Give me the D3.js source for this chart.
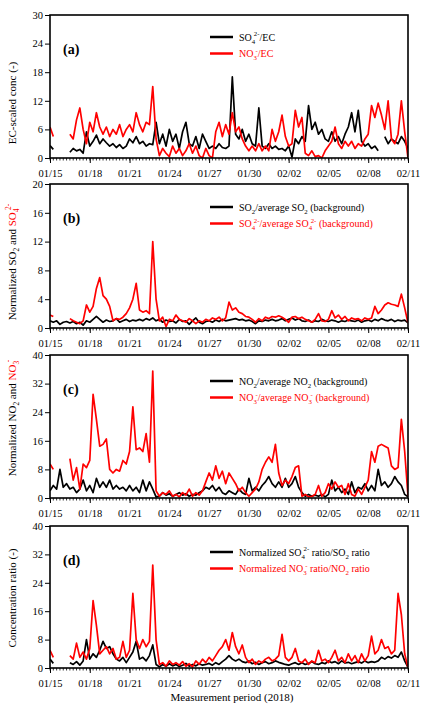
<!DOCTYPE html>
<html><head><meta charset="utf-8">
<script src="https://cdn.jsdelivr.net/npm/d3@7"></script>
<style>body{margin:0;background:#fff}svg{display:block}text{font-family:"Liberation Serif","Times New Roman",serif}</style>
</head><body>
<svg id="c" width="422" height="704"></svg>
<script>
// time base: 2018-01-15 00:00, one value every 6 hours (109 values to 02/11)
const startDate = "2018-01-15";
const stepHours = 6;
const tickLabels = ["01/15","01/18","01/21","01/24","01/27","01/30","02/02","02/05","02/08","02/11"];

const so4EC = [2.6,1.8,null,null,null,null,1.2,2.0,1.5,1.8,1.0,5.5,2.5,3.5,4.8,3.0,4.0,3.2,2.5,3.0,2.2,2.8,2.0,2.5,4.0,3.2,4.5,3.0,3.5,2.5,3.0,2.8,7.5,3.0,5.0,2.5,6.0,3.5,5.0,2.0,5.5,7.5,3.0,2.5,4.5,2.0,5.0,3.5,2.0,2.5,2.0,3.0,2.2,2.0,2.5,17.0,5.0,4.0,6.0,3.5,5.0,3.0,2.5,10.5,2.5,2.0,3.0,2.0,2.5,1.8,2.0,1.5,2.5,0.2,4.0,3.0,4.5,3.5,11.0,6.0,7.5,5.0,6.0,4.0,3.5,5.5,3.5,4.5,3.0,5.0,6.5,9.5,5.5,10.0,3.5,2.5,3.0,2.0,2.5,1.5,null,4.5,3.0,4.0,3.5,3.0,4.5,3.5,2.0];
const no3EC = [6.5,4.5,null,null,null,null,5.0,4.0,8.0,10.5,6.0,3.0,7.5,5.5,9.5,6.5,5.0,6.5,4.5,6.0,5.0,7.0,4.5,6.0,7.0,5.5,9.5,7.0,5.5,7.5,7.0,15.0,4.0,0.5,2.0,1.0,0.3,2.5,1.0,2.0,0.5,1.5,3.0,1.0,2.5,0.5,0.0,2.0,0.5,0.0,5.5,7.5,4.5,7.0,5.0,9.5,5.5,6.5,4.0,2.5,1.5,2.5,1.5,3.0,1.5,2.5,1.5,6.0,3.5,5.5,9.0,4.5,2.5,3.0,10.0,6.5,8.5,1.0,0.5,1.5,0.3,0.5,0.0,1.5,2.5,3.5,6.5,3.0,2.0,3.5,2.5,3.5,2.0,3.0,2.5,4.0,5.0,11.0,8.5,11.5,9.0,6.0,12.0,4.0,3.0,5.0,12.0,5.5,0.0];

const so2Norm = [1.0,0.8,1.0,0.5,0.8,0.9,0.7,0.9,0.6,0.8,0.4,1.0,0.8,1.2,1.6,1.2,0.8,1.1,0.9,1.0,1.3,0.8,1.0,1.2,0.9,1.1,1.0,1.2,1.0,1.3,1.1,1.4,1.0,1.2,0.8,1.1,0.9,1.0,0.7,1.2,0.9,1.0,0.5,1.0,1.4,0.8,0.6,0.9,1.0,0.8,1.1,0.9,1.2,1.0,1.1,1.2,1.3,1.1,1.2,1.0,1.1,0.9,0.6,1.0,0.9,1.1,1.0,1.2,1.0,1.1,1.3,1.0,1.2,1.4,1.1,1.3,1.0,0.9,1.1,0.8,1.0,0.9,1.2,1.0,0.9,1.1,1.0,0.8,1.0,0.9,1.1,1.0,0.9,1.1,0.8,1.0,1.1,0.9,1.2,1.0,1.3,1.1,1.0,1.2,0.9,1.1,1.0,1.1,0.7];
const so4Norm = [1.8,1.6,null,null,null,null,1.3,1.0,0.8,0.6,1.0,3.2,2.2,3.0,5.5,7.0,4.5,4.0,3.0,1.0,1.3,1.2,1.5,2.0,2.8,4.0,6.2,2.5,2.2,2.4,2.0,12.0,4.0,1.0,1.5,0.2,1.2,1.0,1.8,1.2,1.0,0.8,1.3,1.0,0.6,1.0,0.8,1.2,1.0,1.4,1.2,1.5,1.0,1.4,3.6,2.5,2.8,2.2,2.0,1.6,1.5,1.2,0.8,1.3,1.0,1.5,1.3,1.6,1.5,1.7,1.5,1.2,0.8,1.5,1.6,1.3,1.5,1.2,1.0,0.8,1.2,2.0,1.0,0.9,1.2,2.4,1.4,1.8,1.2,1.6,1.0,1.4,1.2,1.3,1.0,1.4,1.2,1.4,3.0,2.0,2.5,3.2,3.5,3.3,3.2,3.0,4.7,2.8,0.7];

const no2Norm = [2.0,3.5,2.5,8.0,3.0,4.0,2.5,3.0,1.5,2.5,5.0,2.0,3.5,1.5,5.5,3.0,4.5,3.0,5.0,2.5,3.5,2.5,3.0,2.0,3.5,2.0,3.0,1.5,5.0,2.0,4.5,2.5,0.3,0.5,1.5,0.8,1.2,0.5,1.0,1.5,0.8,1.2,0.5,1.0,0.8,1.5,2.0,3.0,2.5,3.5,2.0,3.0,1.5,1.0,2.0,1.5,1.0,2.5,1.5,1.0,5.5,2.0,3.0,2.0,3.5,4.5,6.0,4.0,3.0,4.5,3.0,5.5,3.0,4.0,6.0,3.0,1.5,0.5,1.0,0.5,0.8,0.5,1.0,0.3,1.0,5.0,2.0,3.0,1.5,2.5,1.0,4.5,1.5,3.0,2.5,4.0,2.0,3.5,2.0,8.0,3.5,4.5,3.0,4.0,6.0,4.5,3.5,1.0,0.3];
const no3Norm = [9.5,8.0,null,null,null,null,11.0,5.0,8.5,2.5,9.5,8.5,10.5,29.0,22.0,14.5,15.0,16.5,8.0,7.0,8.0,7.5,10.5,9.5,13.0,25.5,13.5,14.0,13.0,18.0,10.0,35.5,2.0,0.5,1.5,1.0,2.0,0.5,1.0,0.3,1.5,0.8,2.5,0.5,1.5,0.8,2.0,4.5,7.0,5.0,9.0,5.5,7.5,4.0,7.0,5.5,4.0,2.0,3.0,1.5,0.5,1.5,2.5,4.5,8.0,10.0,11.5,10.0,15.0,7.0,3.5,5.0,4.0,6.0,8.5,9.0,0.5,1.0,0.3,0.5,1.0,3.5,0.5,1.5,4.0,2.5,4.5,3.0,3.5,1.0,4.0,1.0,0.5,2.5,1.0,3.0,5.0,13.0,10.0,14.5,15.0,14.5,14.0,9.0,8.0,8.5,22.0,13.0,0.5];

const so4Ratio = [2.5,1.3,null,null,null,null,1.5,1.0,1.8,0.8,2.0,8.0,2.5,4.0,3.0,5.0,7.5,5.5,6.0,4.0,2.5,2.0,3.0,1.5,3.0,4.5,7.5,2.5,3.0,2.0,3.5,6.5,1.0,0.3,1.0,0.5,1.2,0.6,1.0,0.4,0.8,1.3,0.5,1.0,0.6,1.2,0.8,1.0,1.3,0.8,1.5,1.0,1.8,2.5,3.5,2.5,2.0,2.5,1.8,1.5,2.0,1.2,1.6,1.0,1.5,1.8,1.2,1.5,2.0,1.6,1.3,1.0,0.8,1.2,1.5,1.0,1.5,1.0,1.3,1.8,1.2,1.0,1.5,1.2,2.0,1.5,1.8,1.2,2.0,1.4,1.6,1.2,1.5,1.8,1.4,2.0,1.5,1.8,1.6,2.0,3.0,2.5,3.2,2.8,3.5,3.0,4.5,2.0,0.2];
const no3Ratio = [5.0,3.0,null,null,null,null,3.5,2.5,7.0,3.0,4.5,2.5,5.5,19.0,12.0,4.0,5.0,6.0,4.0,5.5,2.5,3.0,7.5,3.0,5.0,21.0,8.0,5.5,8.0,6.0,7.5,29.0,8.0,1.0,1.5,0.5,2.0,1.0,1.5,0.8,1.8,0.5,1.2,0.3,2.0,1.0,2.5,1.5,3.0,2.0,3.5,5.0,6.0,8.0,5.0,10.0,6.0,4.0,6.5,3.0,1.5,2.5,1.0,2.0,1.5,2.5,3.0,2.0,2.5,3.5,9.5,3.0,2.0,3.0,5.5,2.0,1.5,2.5,1.0,2.0,1.5,5.0,2.0,2.5,1.5,3.0,5.0,2.0,3.0,1.5,4.0,2.0,3.5,1.5,4.0,2.0,3.5,9.0,4.0,5.0,8.0,5.5,6.0,4.0,5.0,21.0,15.0,4.0,0.0];

const yMaxes = [30,20,40,40];
const yTickSteps = [6,4,8,8];
const panelLetters = ["(a)","(b)","(c)","(d)"];
const legendA = [["SO",{sub:"4",sup:"2-"},"/EC"],["NO",{sub:"3",sup:"-"},"/EC"]];
const legendB = [["SO",{sub:"2"},"/average SO",{sub:"2"}," (background)"],["SO",{sub:"4",sup:"2-"},"/average SO",{sub:"4",sup:"2-"}," (background)"]];
const legendC = [["NO",{sub:"2"},"/average NO",{sub:"2"}," (background)"],["NO",{sub:"3",sup:"-"},"/average NO",{sub:"3",sup:"-"}," (background)"]];
const legendD = [["Normalized SO",{sub:"4",sup:"2-"}," ratio/SO",{sub:"2"}," ratio"],["Normalized NO",{sub:"3",sup:"-"}," ratio/NO",{sub:"2"}," ratio"]];

const BLACK="#000", RED="#ff0000";
const panels = [
  {top:15, bottom:158, series:[so4EC,no3EC], legend:legendA, title:[{c:BLACK,parts:["EC-scaled conc (-)"]}], titleY:103, legY:37},
  {top:184, bottom:328, series:[so2Norm,so4Norm], legend:legendB, title:[{c:BLACK,parts:["Normalized SO",{sub:"2"}," and "]},{c:RED,parts:["SO",{sub:"4",sup:"2-"}]}], titleY:262, legY:207},
  {top:355, bottom:498, series:[no2Norm,no3Norm], legend:legendC, title:[{c:BLACK,parts:["Normalized NO",{sub:"2"}," and "]},{c:RED,parts:["NO",{sub:"3",sup:"-"}]}], titleY:418, legY:381},
  {top:526, bottom:668, series:[so4Ratio,no3Ratio], legend:legendD, title:[{c:BLACK,parts:["Concentration ratio (-)"]}], titleY:598, legY:552}
];

const svg = d3.select("#c");
const t0 = d3.timeParse("%Y-%m-%d")(startDate);
const parseTick = s => d3.timeParse("%Y/%m/%d")("2018/"+s);
const tickDates = tickLabels.map(parseTick);
const x = d3.scaleTime().domain([tickDates[0], tickDates[tickDates.length-1]]).range([50,408]);
const minorTicks = d3.timeHour.every(stepHours).range(tickDates[0], d3.timeHour.offset(tickDates[tickDates.length-1],1));

function rich(textSel, parts, fs){
  let dyAcc = 0;
  parts.forEach(p=>{
    if(typeof p === "string"){
      textSel.append("tspan").attr("dy", -dyAcc).attr("font-size",fs).text(p); dyAcc=0;
    } else {
      const sfs = fs*0.68;
      textSel.append("tspan").attr("dy", fs*0.3-dyAcc).attr("font-size",sfs).text(p.sub); dyAcc=fs*0.3;
      if(p.sup){
        textSel.append("tspan").attr("dx", -sfs*0.2).attr("dy", -fs*0.75).attr("font-size",sfs).text(p.sup); dyAcc += -fs*0.75;
      }
    }
  });
  if(dyAcc!==0) textSel.append("tspan").attr("dy",-dyAcc).text("");
}

panels.forEach((P,pi)=>{
  const y = d3.scaleLinear().domain([0,yMaxes[pi]]).range([P.bottom,P.top]);
  const g = svg.append("g");
  const clipId = "clip"+pi;
  svg.append("clipPath").attr("id",clipId).append("rect").attr("x",50).attr("y",P.top).attr("width",358).attr("height",P.bottom-P.top);
  const line = d3.line().defined(d=>d!=null).x((d,i)=>x(d3.timeHour.offset(t0,i*stepHours))).y(d=>y(d));
  [0,1].forEach(si=>{
    g.append("path").attr("clip-path",`url(#${clipId})`).attr("d",line(P.series[si]))
      .attr("fill","none").attr("stroke",si? RED:BLACK).attr("stroke-width",1.7).attr("stroke-linejoin","round");
  });
  const xa = d3.axisBottom(x).tickValues(tickDates).tickFormat((d,i)=>tickLabels[i]).tickSize(5).tickSizeOuter(0);
  const gx = g.append("g").attr("transform",`translate(0,${P.bottom})`).call(xa);
  gx.selectAll("text").attr("font-size",10.5).attr("dy","1.05em").attr("font-family","Liberation Serif");
  gx.select(".domain").remove();
  g.append("g").selectAll("line").data(minorTicks).join("line")
    .attr("x1",d=>x(d)).attr("x2",d=>x(d)).attr("y1",P.bottom).attr("y2",P.bottom+2.5).attr("stroke","#000").attr("stroke-width",0.8);
  const ya = d3.axisLeft(y).tickValues(d3.range(0,yMaxes[pi]+0.1,yTickSteps[pi])).tickSize(5).tickSizeOuter(0);
  const gy = g.append("g").attr("transform","translate(50,0)").call(ya);
  gy.selectAll("text").attr("font-size",10.5).attr("font-family","Liberation Serif").attr("x",-7);
  gy.select(".domain").remove();
  g.append("rect").attr("x",50).attr("y",P.top).attr("width",358).attr("height",P.bottom-P.top)
    .attr("fill","none").attr("stroke","#000").attr("stroke-width",1.6);
  g.append("text").attr("x",63).attr("y",P.top+39).attr("font-size",14).attr("font-weight","bold").text(panelLetters[pi]);
  P.legend.forEach((parts,li)=>{
    const ly = P.legY + li*16.5;
    g.append("line").attr("x1",210).attr("x2",233).attr("y1",ly).attr("y2",ly).attr("stroke",li?RED:BLACK).attr("stroke-width",2.5);
    const t = g.append("text").attr("x",239).attr("y",ly+3.5).attr("fill",li?RED:BLACK);
    rich(t, parts, 10);
  });
  const tt = g.append("text").attr("transform",`translate(16,${P.titleY}) rotate(-90)`).attr("text-anchor","middle");
  P.title.forEach(seg=>{
    const sub = tt.append("tspan").attr("fill",seg.c);
    rich(sub, seg.parts, 11);
  });
});

svg.append("text").attr("x",232).attr("y",701).attr("text-anchor","middle").attr("font-size",11).text("Measurement period (2018)");
</script>
</body></html>
